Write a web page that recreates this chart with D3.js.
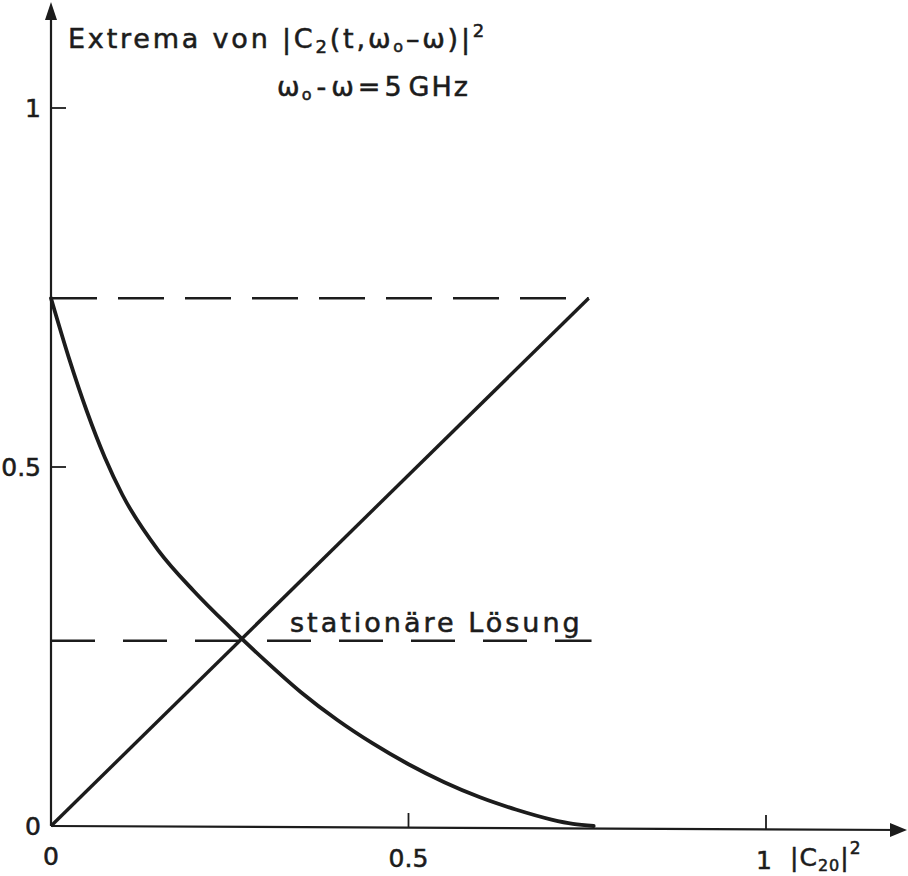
<!DOCTYPE html>
<html>
<head>
<meta charset="utf-8">
<script src="https://cdn.jsdelivr.net/npm/d3@7"></script>
<style>
  html, body { margin: 0; padding: 0; background: #ffffff; }
  svg { display: block; }
  text { font-family: "DejaVu Sans", "Liberation Sans", sans-serif; fill: #1c1c1c; stroke: #1c1c1c; stroke-width: 0.55px; }
</style>
</head>
<body>
<svg id="chart" width="908" height="876"></svg>
<script>
// Axis ticks
const xTicks = [0, 0.5, 1];
const yTicks = [0, 0.5, 1];
const xTickLabels = ["0", "0.5", "1"];
const yTickLabels = ["0", "0.5", "1"];

// Maximum of |C2|^2 grows linearly with |C20|^2
const diagonalX = [0, 0.752];
const diagonalY = [0, 0.735];

// Minimum of |C2|^2 as function of |C20|^2
const minimumX = [0, 0.025, 0.05, 0.075, 0.1, 0.15, 0.2, 0.25, 0.3, 0.35, 0.4, 0.45, 0.5, 0.55, 0.6, 0.65, 0.7, 0.73, 0.759];
const minimumY = [0.735, 0.652, 0.578, 0.514, 0.461, 0.384, 0.327, 0.277, 0.230, 0.186, 0.148, 0.115, 0.086, 0.061, 0.040, 0.023, 0.009, 0.003, 0];

// Horizontal reference levels (upper bound and stationary solution)
const upperLevel = 0.735;
const stationaryLevel = 0.258;
const stationaryEndX = 0.756;

const svg = d3.select("#chart");
const ink = "#1c1c1c";

const x = d3.scaleLinear().domain([0, 1]).range([51, 766]);
const y = d3.scaleLinear().domain([0, 1]).range([826, 108]);

// Axes with arrow heads
svg.append("line")
  .attr("x1", x(0)).attr("y1", y(0))
  .attr("x2", 904).attr("y2", y(0) + 4)
  .attr("stroke", ink).attr("stroke-width", 2.2);
svg.append("path")
  .attr("d", `M907,${y(0) + 4} L890,${y(0) - 3} L890,${y(0) + 11} Z`)
  .attr("fill", ink);

svg.append("line")
  .attr("x1", x(0)).attr("y1", y(0))
  .attr("x2", x(0)).attr("y2", 10)
  .attr("stroke", ink).attr("stroke-width", 2.2);
svg.append("path")
  .attr("d", `M${x(0)},2 L${x(0) - 6},20 L${x(0) + 6},20 Z`)
  .attr("fill", ink);

// Ticks
const xt = svg.append("g");
xTicks.forEach((v, i) => {
  if (v > 0) {
    xt.append("line")
      .attr("x1", x(v)).attr("x2", x(v))
      .attr("y1", y(0) + v * 4).attr("y2", y(0) + v * 4 - 15)
      .attr("stroke", ink).attr("stroke-width", 1.8);
  }
  xt.append("text")
    .attr("x", x(v) + (v === 1 ? -2 : 0)).attr("y", y(0) + 39 + v * 4)
    .attr("text-anchor", "middle")
    .attr("font-size", 25)
    .text(xTickLabels[i]);
});

const yt = svg.append("g");
yTicks.forEach((v, i) => {
  if (v > 0) {
    yt.append("line")
      .attr("x1", x(0)).attr("x2", x(0) + 15)
      .attr("y1", y(v)).attr("y2", y(v))
      .attr("stroke", ink).attr("stroke-width", 1.8);
  }
  yt.append("text")
    .attr("x", x(0) - 10).attr("y", y(v) + 9)
    .attr("text-anchor", "end")
    .attr("font-size", 25)
    .text(yTickLabels[i]);
});

// Dashed reference levels
svg.append("line")
  .attr("x1", x(0)).attr("x2", x(diagonalX[1]))
  .attr("y1", y(upperLevel)).attr("y2", y(upperLevel))
  .attr("stroke", ink).attr("stroke-width", 2.6)
  .attr("stroke-dasharray", "46,21");

svg.append("line")
  .attr("x1", x(0)).attr("x2", x(stationaryEndX))
  .attr("y1", y(stationaryLevel)).attr("y2", y(stationaryLevel))
  .attr("stroke", ink).attr("stroke-width", 2.6)
  .attr("stroke-dasharray", "44,28");

// Curves
const line = d3.line().x(d => x(d[0])).y(d => y(d[1]));
svg.append("path")
  .attr("d", line(d3.zip(diagonalX, diagonalY)))
  .attr("fill", "none").attr("stroke", ink).attr("stroke-width", 3.4);

svg.append("path")
  .attr("d", line.curve(d3.curveMonotoneX)(d3.zip(minimumX, minimumY)))
  .attr("fill", "none").attr("stroke", ink).attr("stroke-width", 3.8)
  .attr("stroke-linecap", "round");

// Labels
const title = svg.append("text").attr("x", 68).attr("y", 48)
  .attr("font-size", 27).attr("letter-spacing", 2.8);
title.append("tspan").text("Extrema von |C");
title.append("tspan").attr("font-size", 18).attr("dy", 5).text("2");
title.append("tspan").attr("dy", -5).text("(t,ω");
title.append("tspan").attr("font-size", 16).attr("dy", 4).text("o");
title.append("tspan").attr("dy", -4).text("–ω)|");
title.append("tspan").attr("font-size", 18).attr("dy", -11).text("2");

const sub = svg.append("text").attr("x", 277).attr("y", 96)
  .attr("font-size", 27).attr("letter-spacing", 2);
sub.append("tspan").text("ω");
sub.append("tspan").attr("font-size", 16).attr("dy", 4).text("o");
sub.append("tspan").attr("dy", -4).attr("dx", 3).text("-");
sub.append("tspan").attr("dx", 3).text("ω");
sub.append("tspan").attr("dx", 2).text("=");
sub.append("tspan").attr("dx", 2).text("5");
sub.append("tspan").attr("dx", 5).text("GHz");

svg.append("text")
  .attr("x", 290).attr("y", 632)
  .attr("font-size", 27).attr("letter-spacing", 3)
  .text("stationäre Lösung");

const xl = svg.append("text").attr("x", 790).attr("y", 866)
  .attr("font-size", 25).attr("letter-spacing", 1);
xl.append("tspan").text("|C");
xl.append("tspan").attr("font-size", 16).attr("dy", 5).text("20");
xl.append("tspan").attr("dy", -5).text("|");
xl.append("tspan").attr("font-size", 17).attr("dy", -12).text("2");
</script>
</body>
</html>
